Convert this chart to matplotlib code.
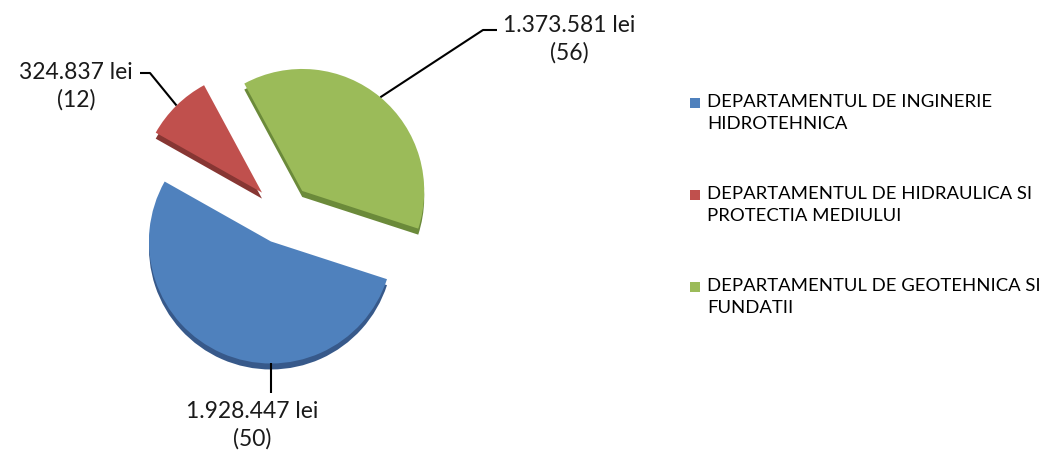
import numpy as np
import matplotlib.pyplot as plt
from matplotlib.patches import Rectangle

# date
departamente = ["DEPARTAMENTUL DE INGINERIE\nHIDROTEHNICA",
                "DEPARTAMENTUL DE HIDRAULICA SI\nPROTECTIA MEDIULUI",
                "DEPARTAMENTUL DE GEOTEHNICA SI\nFUNDATII"]
sume = [1928447, 324837, 1373581]
numar = [50, 12, 56]

culori = ['#4F81BD', '#C0504D', '#9BBB59']
culori_umbra = ['#37598A', '#873633', '#6B8A3A']

plt.rcParams['font.family'] = ['Lato', 'DejaVu Sans']

W, H = 1041, 454
fig = plt.figure(figsize=(W / 100, H / 100), dpi=100)
ax = fig.add_axes([0, 0, 1, 1])

cx, cy, r = 283, H - 214, 122
expl = [30, 30, 30]

# grosimea feliilor (efect 3D)
ax.pie(sume, colors=culori_umbra, startangle=-18, counterclock=False,
       explode=expl, radius=r, center=(cx, cy - 6), wedgeprops=dict(linewidth=0))
felii, _ = ax.pie(sume, colors=culori, startangle=-18, counterclock=False,
                  explode=expl, radius=r, center=(cx, cy), wedgeprops=dict(linewidth=0))

ax.set_xlim(0, W)
ax.set_ylim(0, H)
ax.set_aspect('auto')
ax.axis('off')

etichete = [f"{v:,}".replace(",", ".") + " lei\n(" + str(n) + ")" for v, n in zip(sume, numar)]

# pozitii etichete (pixeli, y de sus)
poz_text = [(252, 425), (76, 86), (569, 39)]
for i, w in enumerate(felii):
    if i == 0:
        unghi = -90
    else:
        unghi = (w.theta1 + w.theta2) / 2
    px = w.center[0] + w.r * np.cos(np.radians(unghi))
    py = w.center[1] + w.r * np.sin(np.radians(unghi))
    tx, ty = poz_text[i]
    if i == 0:
        xs, ys = [px, px], [py, H - 393]
    elif i == 1:
        xs, ys = [px, 150, 140], [py, H - 73, H - 73]
    else:
        xs, ys = [px, 483, 497], [py, H - 30, H - 30]
    ax.plot(xs, ys, color='black', lw=1.5, solid_capstyle='butt')
    ax.text(tx, H - ty, etichete[i], ha='center', va='center', fontsize=16.5,
            linespacing=1.35, color='#1a1a1a')

# legenda
for i, nume in enumerate(departamente):
    ytop = H - (97 + i * 92)
    ax.add_patch(Rectangle((690, ytop - 11), 10, 10, color=culori[i], lw=0))
    ax.text(707, ytop + 3, nume, ha='left', va='top', fontsize=13.3,
            linespacing=1.45, color='black')

fig.savefig('out.png', dpi=100)
